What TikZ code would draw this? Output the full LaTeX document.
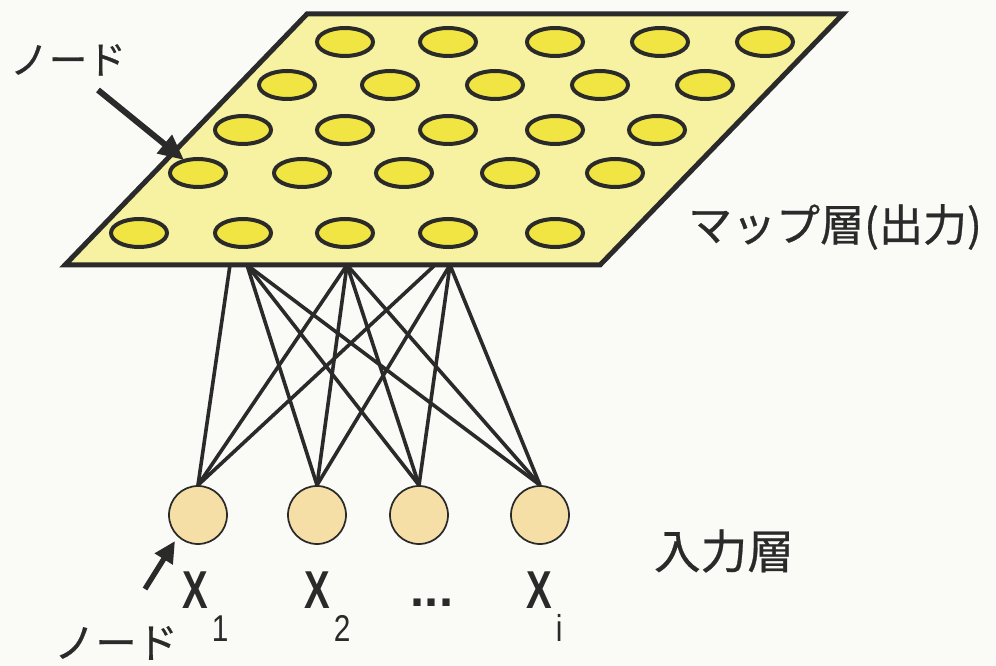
\documentclass[tikz,border=0pt]{standalone}
\usepackage{fontspec}
\newfontfamily\jp[FakeBold=0.6]{Noto Sans CJK JP}
\newfontfamily\lsans{Liberation Sans}
\usetikzlibrary{shapes.geometric,arrows.meta}
\definecolor{bg}{HTML}{FAFAF7}
\definecolor{mapfill}{HTML}{F6F2A2}
\definecolor{nodefill}{HTML}{F1E543}
\definecolor{infill}{HTML}{F5DFA6}
\definecolor{ink}{HTML}{2A2A2A}
\newcommand\xbig{\scalebox{0.72}[1]{\bfseries X}}
\newcommand\xsub[1]{\hspace{3pt}\raisebox{-25pt}{\fontsize{28pt}{30pt}\selectfont\scalebox{0.8}[1]{#1}}}
\begin{document}
\begin{tikzpicture}[x=0.75pt,y=-0.75pt,
  mapnode/.style={ellipse,draw=ink,fill=nodefill,line width=3pt,minimum width=42pt,minimum height=21pt,inner sep=0pt},
  innode/.style={circle,draw=ink,fill=infill,line width=1.3pt,minimum size=43.5pt,inner sep=0pt},
  link/.style={draw=ink,line width=2.7pt},
  jplabel/.style={text=ink,font=\jp\fontsize{32pt}{36pt}\selectfont,inner sep=0pt},
  xlabel/.style={text=ink,font=\lsans\fontsize{40pt}{44pt}\selectfont,inner sep=0pt,anchor=base west},
  pointer/.style={draw=ink,line width=4.5pt,-{Triangle[length=19pt,width=17pt]}}
]
\fill[bg] (0,0) rectangle (996,666);
\useasboundingbox (0,0) rectangle (996,666);

% map layer
\coordinate (p1) at (307,14);
\coordinate (p2) at (843,14);
\coordinate (p3) at (600,265);
\coordinate (p4) at (65,265);
\draw[draw=ink,line width=3.75pt,fill=mapfill,line join=miter] (p1)--(p2)--(p3)--(p4)--cycle;

\foreach \x [count=\i] in {345,448,555,660,765} \node[mapnode] (ea\i) at (\x,42) {};
\foreach \x [count=\i] in {287,390,495,600,705} \node[mapnode] (eb\i) at (\x,85) {};
\foreach \x [count=\i] in {243,345,448,555,657} \node[mapnode] (ec\i) at (\x,130) {};
\foreach \x [count=\i] in {198,302,404,510,615} \node[mapnode] (ed\i) at (\x,173) {};
\foreach \x [count=\i] in {139,243,345,448,555} \node[mapnode] (ee\i) at (\x,233) {};

% connection points on the map layer
\coordinate (t1) at (230,265);
\coordinate (t2) at (247,265);
\coordinate (t3) at (347,265);
\coordinate (t4) at (435,265);
\coordinate (t5) at (450,265);

% input nodes
\node[innode] (c1) at (198,515) {};
\node[innode] (c2) at (317,515) {};
\node[innode] (c3) at (419,515) {};
\node[innode] (c4) at (540,515) {};

\draw[link] (t1) -- (c1.north);
\draw[link] (t3) -- (c1.north);
\draw[link] (t4) -- (c1.north);
\draw[link] (t2) -- (c2.north);
\draw[link] (t3) -- (c2.north);
\draw[link] (t5) -- (c2.north);
\draw[link] (t2) -- (c3.north);
\draw[link] (t3) -- (c3.north);
\draw[link] (t5) -- (c3.north);
\draw[link] (t2) -- (c4.north);
\draw[link] (t3) -- (c4.north);
\draw[link] (t5) -- (c4.north);

% labels
\node[jplabel,font=\jp\fontsize{29pt}{32pt}\selectfont] (lnode1) at (68,60) {ノード};
\coordinate (a1s) at (98,90);
\coordinate (a1e) at (184,160);
\draw[pointer] (a1s) -- (a1e);

\node[jplabel,font=\jp\fontsize{33pt}{36pt}\selectfont] (lmap) at (835,227) {マップ層(出力)};
\node[jplabel,font=\jp\fontsize{35pt}{38pt}\selectfont] (lin) at (724,551) {入力層};

\coordinate (a2s) at (145,589);
\coordinate (a2e) at (175,541);
\draw[pointer,line width=4pt,-{Triangle[length=16pt,width=15pt]}] (a2s) -- (a2e);
\node[jplabel,font=\jp\fontsize{31pt}{34pt}\selectfont] (lnode2) at (116,643) {ノード};

\node[xlabel] (x1) at (182,608) {\xbig\xsub{1}};
\node[xlabel] (x2) at (304,608) {\xbig\xsub{2}};
\node[xlabel,font=\lsans\bfseries\fontsize{38pt}{40pt}\selectfont,anchor=base] (dots) at (432,606) {...};
\node[xlabel] (xi) at (526,608) {\xbig\xsub{i}};
\end{tikzpicture}
\end{document}
